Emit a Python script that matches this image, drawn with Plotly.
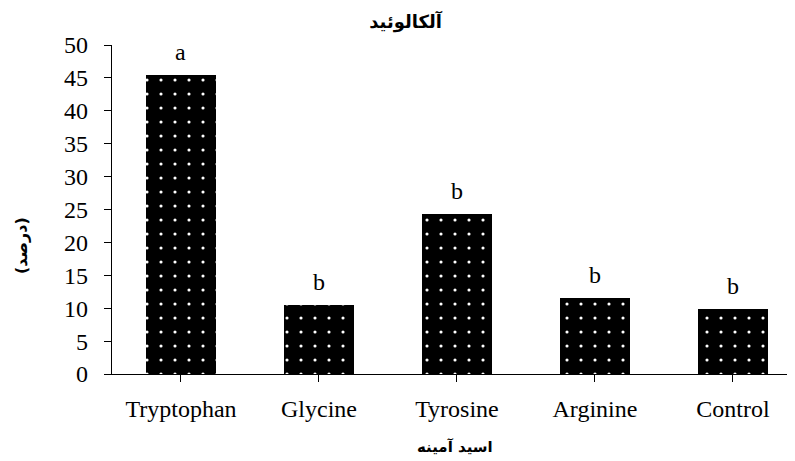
import plotly.graph_objects as go

categories = ["Tryptophan", "Glycine", "Tyrosine", "Arginine", "Control"]
values = [45.4, 10.5, 24.3, 11.5, 9.9]
letters = ["a", "b", "b", "b", "b"]
y_ticks = [0, 5, 10, 15, 20, 25, 30, 35, 40, 45, 50]

serif = "Liberation Serif, Times New Roman, serif"
arabic = "DejaVu Sans"

# figure geometry (page is offset by 8px body margin)
L, R, T, B = 104, 8, 37, 95
W, H = 795, 461
PW, PH = W - L - R, H - T - B

fig = go.Figure()
fig.add_trace(go.Bar(
    x=list(range(len(categories))),
    y=values,
    width=0.51,
    marker=dict(
        color="black",
        line=dict(width=0),
        pattern=dict(shape=".", bgcolor="black", fgcolor="white",
                     size=14, solidity=0.04, fillmode="replace"),
    ),
    showlegend=False,
))

for i, (v, t) in enumerate(zip(values, letters)):
    fig.add_annotation(x=i, y=v, text=t, showarrow=False, yanchor="bottom",
                       yshift=8, font=dict(family=serif, size=24, color="black"))

# axis titles as annotations for exact placement
fig.add_annotation(xref="paper", yref="paper",
                   x=(14 - L) / PW, y=1 - (238 - T) / PH,
                   text="<b>(درصد)</b>", textangle=-90, showarrow=False,
                   xanchor="center", yanchor="middle",
                   font=dict(family=arabic, size=16, color="black"))
fig.add_annotation(xref="paper", yref="paper",
                   x=(447 - L) / PW, y=1 - (439 - T) / PH,
                   text="<b>اسید آمینه</b>", showarrow=False,
                   xanchor="center", yanchor="middle",
                   font=dict(family=arabic, size=15, color="black"))

fig.update_layout(
    width=W, height=H,
    margin=dict(l=L, r=R, t=T, b=B, autoexpand=False),
    paper_bgcolor="white", plot_bgcolor="white",
    title=dict(text="<b>آلکالوئید</b>", x=0.5, xanchor="center",
               y=1 - 14 / H, yref="container", yanchor="middle",
               font=dict(family=arabic, size=18, color="black")),
    bargap=0,
)
fig.update_xaxes(
    range=[-0.5, 4.45], automargin=False,
    tickmode="array", tickvals=list(range(len(categories))), ticktext=categories,
    tickson="boundaries", ticks="outside", ticklen=7, tickcolor="black",
    ticklabelstandoff=6,
    showline=True, linecolor="black", linewidth=1.3,
    showgrid=False, zeroline=False,
    tickfont=dict(family=serif, size=24, color="black"),
)
fig.update_yaxes(
    range=[0, 50], automargin=False,
    tickmode="array", tickvals=y_ticks,
    ticks="outside", ticklen=7, tickcolor="black",
    ticklabelstandoff=11,
    showline=True, linecolor="black", linewidth=1.3,
    showgrid=False, zeroline=False,
    tickfont=dict(family=serif, size=24, color="black"),
)

fig.write_html("out.html")
